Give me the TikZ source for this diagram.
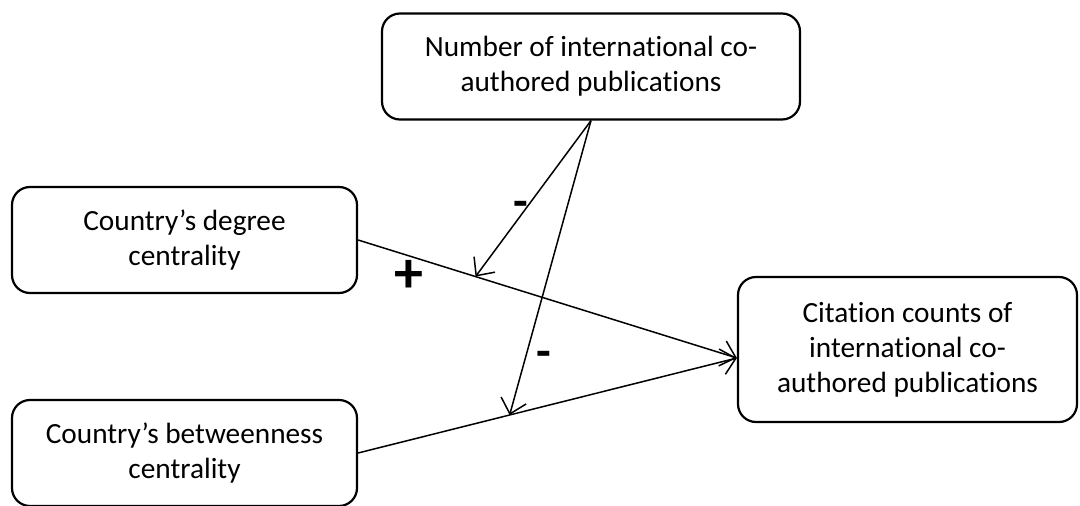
\documentclass[tikz,border=0pt]{standalone}
\usepackage{fontspec}
\setmainfont[Ligatures=NoCommon]{Carlito}
\usetikzlibrary{arrows.meta,calc}
\begin{document}
\begin{tikzpicture}[x=1pt,y=-1pt,
  box/.style={draw=black, line width=2.2pt, rounded corners=18pt, align=center,
    inner sep=0pt, font=\fontsize{29.3}{35}\selectfont},
  link/.style={draw=black, line width=1.5pt},
  arr/.style={link, -{Straight Barb[length=14pt,width=26pt,line width=1.5pt]}},
  sign/.style={font=\bfseries\fontsize{48}{48}\selectfont, inner sep=0pt},
  plus/.style={font=\bfseries\fontsize{58}{58}\selectfont, inner sep=0pt}]
\useasboundingbox (0,0) rectangle (1080,506);
\node[box, minimum width=418pt, minimum height=106pt] (top) at (591,66.5)
  {Number of international co-\\authored publications};
\node[box, minimum width=345pt, minimum height=106pt] (deg) at (184.5,240)
  {Country’s degree\\centrality};
\node[box, minimum width=345pt, minimum height=106pt] (btw) at (184.5,453)
  {Country’s betweenness\\centrality};
\node[box, minimum width=339pt, minimum height=145pt] (cit) at (907.5,349.5)
  {Citation counts of\\international co-\\authored publications};
\coordinate (tip) at ([yshift=-8.5pt]cit.west);
\draw[arr] (deg.east) -- (tip);
\draw[arr] (btw.east) -- (tip);
\coordinate (m1) at ($(deg.east)!0.31!(tip)$);
\coordinate (m2) at ($(btw.east)!0.40!(tip)$);
\draw[arr] (top.south) -- (m1);
\draw[arr] (top.south) -- (m2);
\node[sign] (s1) at (520.5,209) {-};
\node[sign] (s2) at (543.5,359) {-};
\node[plus] (s3) at (408.5,276) {+};
\end{tikzpicture}
\end{document}
